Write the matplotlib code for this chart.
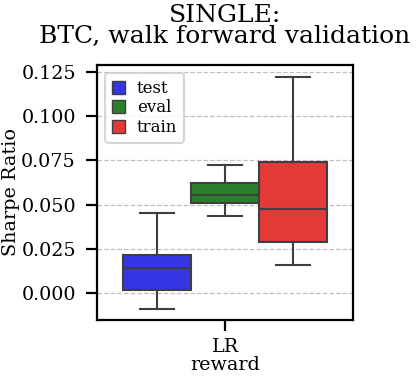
import matplotlib
matplotlib.use("Agg")
import matplotlib.pyplot as plt
from matplotlib.patches import Patch

plt.rcParams["font.family"] = "DejaVu Serif"

# box statistics (Sharpe ratio, reward = LR)
groups = ["test", "eval", "train"]
colors = ["#3535e3", "#2a7f2a", "#e33939"]
whislo = [-0.0089, 0.0437, 0.0158]
q1 = [0.0019, 0.0511, 0.0290]
med = [0.0141, 0.0554, 0.0477]
q3 = [0.0215, 0.0620, 0.0741]
whishi = [0.0452, 0.0724, 0.1224]
rewards = ["LR"]

stats = []
for i, g in enumerate(groups):
    stats.append(dict(label=g, whislo=whislo[i], q1=q1[i], med=med[i],
                      q3=q3[i], whishi=whishi[i], fliers=[]))

fig = plt.figure(figsize=(4.19, 3.80), dpi=100)
ax = fig.add_axes([0.2315, 0.158, 0.611, 0.671])

w = 0.8 / len(groups)
pos = [(i - 1) * w for i in range(len(groups))]
edge = "#3f3f3f"
bp = ax.bxp(stats, positions=pos, widths=w, patch_artist=True, showfliers=False,
            boxprops=dict(edgecolor=edge, linewidth=1.5),
            medianprops=dict(color=edge, linewidth=1.5),
            whiskerprops=dict(color=edge, linewidth=1.5),
            capprops=dict(color=edge, linewidth=1.5),
            capwidths=w / 2)
for box, c in zip(bp["boxes"], colors):
    box.set_facecolor(c)

ax.set_xlim(-0.5, 0.5)
ax.set_ylim(-0.0153, 0.129)
ax.set_yticks([0.0, 0.025, 0.05, 0.075, 0.1, 0.125])
ax.set_yticklabels([f"{t:.3f}" for t in [0.0, 0.025, 0.05, 0.075, 0.1, 0.125]])
ax.set_xticks([0])
ax.set_xticklabels(rewards)
ax.yaxis.grid(True, linestyle="--", color="#c0c0c0", linewidth=0.9)
ax.set_axisbelow(True)
for s in ax.spines.values():
    s.set_linewidth(1.6)
    s.set_color("black")
ax.tick_params(width=1.6, length=7.7, labelsize=13.8)
ax.tick_params(axis="y", pad=7.5)
ax.tick_params(axis="x", pad=5.5)

ax.set_xlabel("reward", fontsize=13.8, labelpad=0)
ax.set_ylabel("Sharpe Ratio", fontsize=13.8, labelpad=1)
ax.set_title("SINGLE:\nBTC, walk forward validation", fontsize=18,
             linespacing=0.9, pad=16)

handles = [Patch(facecolor=c, edgecolor=edge, label=g) for g, c in zip(groups, colors)]
leg = ax.legend(handles=handles, loc="upper left", fontsize=12, handlelength=0.8,
                handleheight=0.8, borderpad=0.4, labelspacing=0.15,
                handletextpad=0.7, borderaxespad=0.5)
leg.get_frame().set_edgecolor("#cccccc")
leg.get_frame().set_linewidth(1.5)

fig.savefig("out.png", dpi=100)
